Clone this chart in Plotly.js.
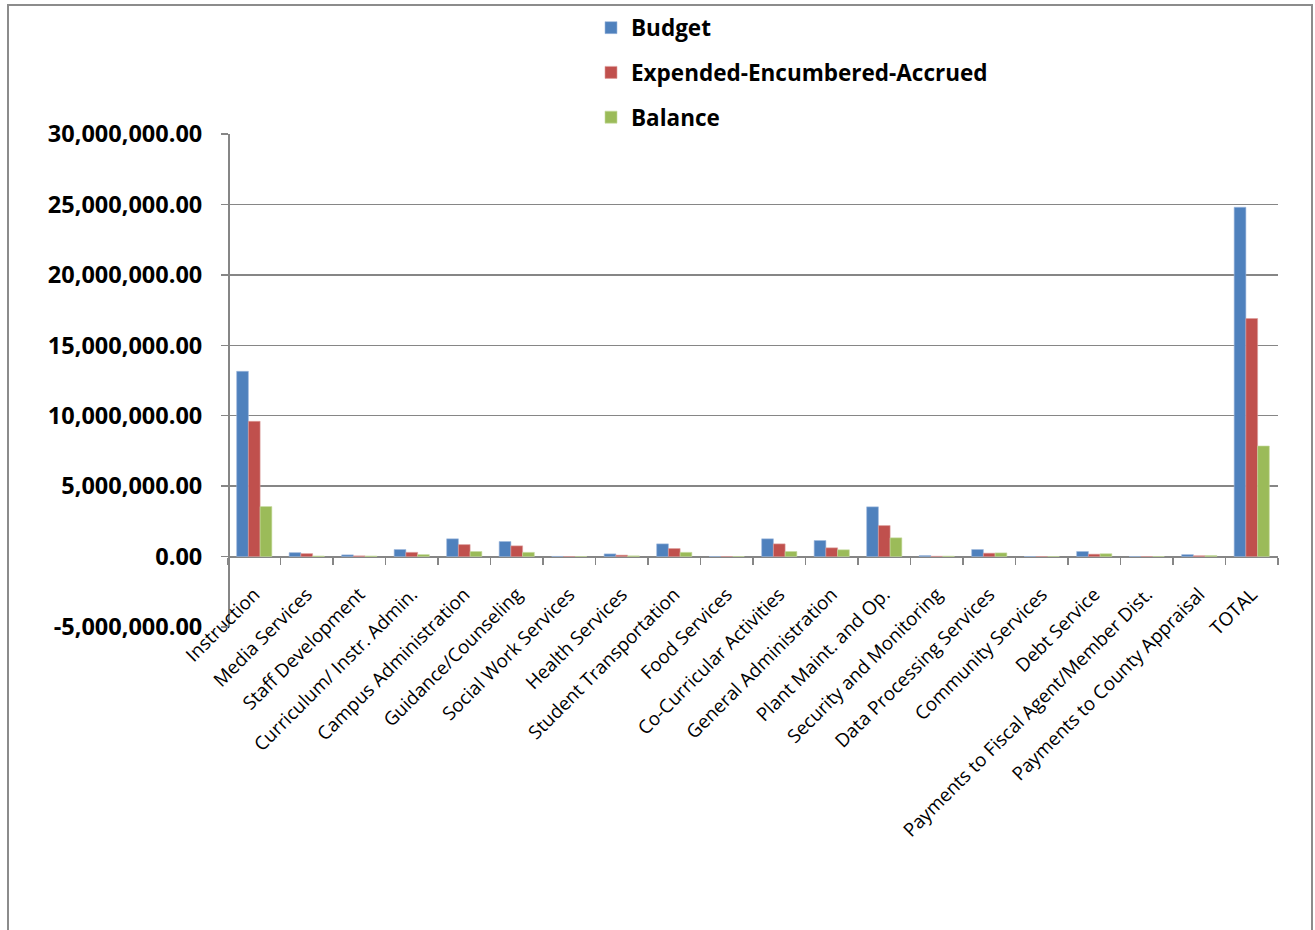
<!DOCTYPE html>
<html>
<head>
<meta charset="utf-8">
<script src="https://cdn.plot.ly/plotly-3.0.1.min.js"></script>
<style>html,body{margin:0;padding:0;background:#fff;}#chart{width:1315px;height:930px;}</style>
</head>
<body>
<div id="chart"></div>
<script>
const categories = [
  "Instruction", "Media Services", "Staff Development", "Curriculum/ Instr. Admin.",
  "Campus Administration", "Guidance/Counseling", "Social Work Services", "Health Services",
  "Student Transportation", "Food Services", "Co-Curricular Activities", "General Administration",
  "Plant Maint. and Op.", "Security and Monitoring", "Data Processing Services", "Community Services",
  "Debt Service", "Payments to Fiscal Agent/Member Dist.", "Payments to County Appraisal", "TOTAL"
];
const budget = [
  13150000, 280000, 120000, 500000,
  1260000, 1070000, 10000, 190000,
  900000, 0, 1260000, 1140000,
  3530000, 70000, 500000, 0,
  360000, 0, 140000, 24800000
];
const expended = [
  9600000, 210000, 50000, 300000,
  850000, 760000, 0, 100000,
  570000, 0, 900000, 620000,
  2200000, 20000, 240000, 0,
  170000, 0, 60000, 16900000
];
const balance = [
  3550000, 40000, 40000, 140000,
  360000, 300000, 0, 50000,
  300000, 0, 360000, 480000,
  1330000, 30000, 260000, 0,
  200000, 0, 70000, 7850000
];
const seriesNames = ["Budget", "Expended-Encumbered-Accrued", "Balance"];
const yTickVals = [-5000000, 0, 5000000, 10000000, 15000000, 20000000, 25000000, 30000000];
const yTickLabels = ["-5,000,000.00", "0.00", "5,000,000.00", "10,000,000.00", "15,000,000.00", "20,000,000.00", "25,000,000.00", "30,000,000.00"];

const colors = ["#4F81BD", "#C0504D", "#9BBB59"];
const lineColors = ["#9DB9DE", "#DE9E9C", "#C6DBA0"];
const seriesValues = [budget, expended, balance];

const traces = seriesValues.map((vals, i) => ({
  type: "bar",
  name: seriesNames[i],
  x: categories,
  y: vals,
  legendgroup: "g" + i,
  marker: {color: colors[i], line: {color: lineColors[i], width: 0.6}},
  hoverinfo: "x+y+name"
}));

// plot area: left 228, right 1278, top 134, bottom 627
const L = 228, R = 1315 - 1278, T = 134, B = 930 - 627;
const PW = 1315 - L - R, PH = 930 - T - B;
const px2x = p => (p - L) / PW;
const py2y = p => (930 - B - p) / PH;
const yMin = -5000000, yMax = 30000000;
const zeroPos = (0 - yMin) / (yMax - yMin);

const layout = {
  width: 1315,
  height: 930,
  margin: {l: L, r: R, t: T, b: B, pad: 0, autoexpand: false},
  paper_bgcolor: "#ffffff",
  plot_bgcolor: "#ffffff",
  barmode: "group",
  bargap: 0.33,
  bargroupgap: 0,
  font: {family: "Open Sans, sans-serif", color: "#000000"},
  showlegend: true,
  legend: {
    x: px2x(591),
    xanchor: "left",
    y: py2y(6.5),
    yanchor: "top",
    orientation: "v",
    traceorder: "grouped",
    tracegroupgap: 12.5,
    font: {family: "Open Sans, sans-serif", size: 22.5, color: "#000000", weight: "bold"},
    bgcolor: "rgba(0,0,0,0)"
  },
  xaxis: {
    type: "category",
    categoryorder: "array",
    categoryarray: categories,
    range: [-0.5, categories.length - 0.5],
    anchor: "free",
    position: zeroPos,
    showline: true,
    linecolor: "#868686",
    linewidth: 1.5,
    ticks: "outside",
    tickson: "boundaries",
    ticklen: 7,
    tickwidth: 1.5,
    tickcolor: "#868686",
    tickangle: -45,
    ticklabelstandoff: 18,
    tickfont: {family: "Open Sans, sans-serif", size: 18.8, color: "#000000"},
    showgrid: false,
    zeroline: false,
    automargin: false,
    fixedrange: true
  },
  yaxis: {
    range: [yMin, yMax],
    tickmode: "array",
    tickvals: yTickVals,
    ticktext: yTickLabels,
    anchor: "free",
    position: 0,
    showline: true,
    linecolor: "#868686",
    linewidth: 1.5,
    ticks: "outside",
    ticklen: 7,
    tickwidth: 1.5,
    tickcolor: "#868686",
    ticklabelstandoff: 14,
    tickfont: {family: "Open Sans, sans-serif", size: 23.5, color: "#000000", weight: "bold"},
    showgrid: true,
    gridcolor: "#868686",
    gridwidth: 1.5,
    zeroline: false,
    automargin: false,
    fixedrange: true
  },
  shapes: [{
    type: "rect",
    xref: "paper", yref: "paper",
    x0: px2x(8), x1: px2x(1312),
    y0: py2y(945), y1: py2y(5),
    line: {color: "#8C8C8C", width: 2},
    fillcolor: "rgba(0,0,0,0)",
    layer: "below"
  }]
};

Plotly.newPlot("chart", traces, layout, {displayModeBar: false, staticPlot: true});
</script>
</body>
</html>
